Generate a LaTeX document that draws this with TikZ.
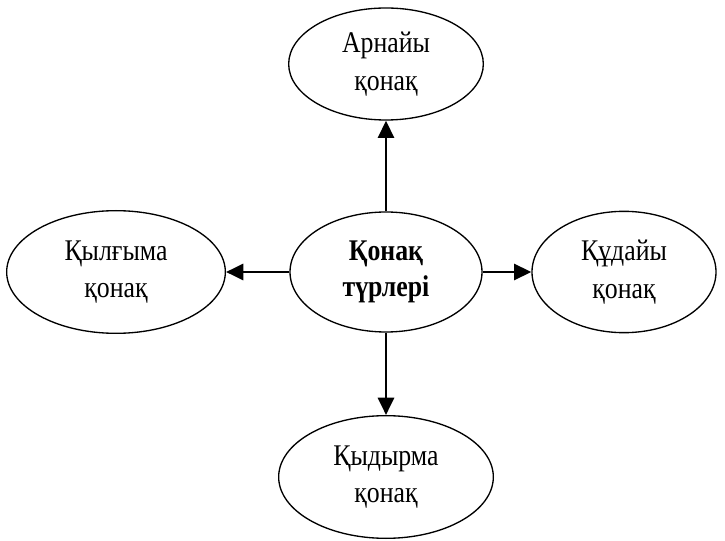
\documentclass[tikz,border=0pt]{standalone}
\usepackage{fontspec}
\setmainfont{Liberation Serif}[FakeStretch=0.86]
\usetikzlibrary{shapes.geometric,arrows.meta}

\tikzset{
  kind/.style={draw,ellipse,line width=1pt,inner sep=0pt,align=center,
    font=\fontsize{22.5}{28}\selectfont},
  link/.style={line width=2.2pt,-{Triangle[length=13pt,width=12pt]}}
}

\begin{document}
\begin{tikzpicture}[x=0.75pt,y=0.75pt,yscale=-1,xscale=1]
\useasboundingbox (0,0) rectangle (725,541);

% Centre ellipse
\node [kind,minimum width=144pt,minimum height=90pt,font=\fontsize{22.5}{27}\selectfont\bfseries] (types) at (386,272) {Қонақ\\түрлері};
% Outer ellipses
\node [kind,minimum width=146pt,minimum height=84pt] (arnaiy) at (386,64) {Арнайы\\қонақ};
\node [kind,minimum width=164pt,minimum height=92pt] (kylgyma) at (116,272) {Қылғыма\\қонақ};
\node [kind,minimum width=138pt,minimum height=91pt] (kudaiy) at (624,272) {Құдайы\\қонақ};
\node [kind,minimum width=161pt,minimum height=92pt] (kydyrma) at (386,477) {Қыдырма\\қонақ};

% Arrows
\draw [link] (types) -- (arnaiy);
\draw [link] (types) -- (kylgyma);
\draw [link] (types) -- (kudaiy);
\draw [link] (types) -- (kydyrma);

\end{tikzpicture}
\end{document}
